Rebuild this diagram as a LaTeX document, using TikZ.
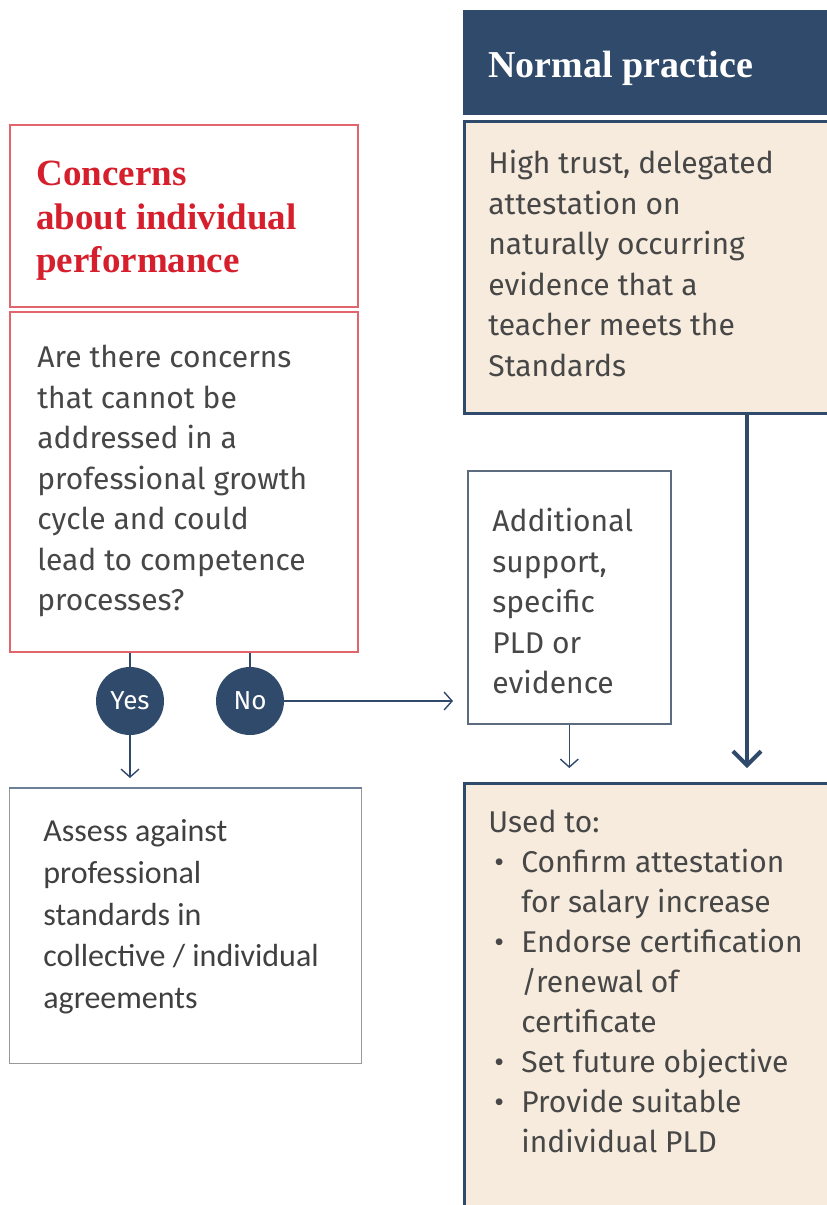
\documentclass[tikz,border=0pt]{standalone}
\usepackage{fontspec}
\setmainfont{Fira Sans}
\newfontfamily\headfont{Liberation Serif}
\newfontfamily\calfont{Carlito}
\usepackage{tikz}
\usetikzlibrary{arrows.meta,positioning}
\definecolor{navy}{HTML}{2F4A6A}
\definecolor{sand}{HTML}{F6EBDD}
\definecolor{redline}{HTML}{E2646C}
\definecolor{redhead}{HTML}{D61F2C}
\definecolor{txtgrey}{HTML}{474747}
\definecolor{boxgrey}{HTML}{5C6C7E}

\begin{document}
\begin{tikzpicture}[x=0.5pt,y=-0.5pt,
    box/.style={draw,rectangle,inner sep=0pt,anchor=north west},
    redbox/.style={box,draw=redline,line width=0.8pt,fill=white},
    sandbox/.style={box,draw=navy,line width=1.6pt,fill=sand},
    txt/.style={inner sep=0pt,anchor=north west,align=left,text=txtgrey,
      font=\fontsize{15}{20.25}\selectfont},
    choice/.style={circle,fill=navy,text=white,minimum size=34pt,inner sep=0pt,
      font=\fontsize{13}{13}\selectfont},
    thin/.style={navy,line width=0.7pt},
    flow/.style={thin,-{Straight Barb[length=4pt,width=9pt]}}]
  \useasboundingbox (0,0) rectangle (826,1205);

  % left column: red question boxes
  \node[redbox,minimum width=174pt,minimum height=91pt] (concern) at (9,124) {};
  \node[redbox,minimum width=174pt,minimum height=170pt] (question) at (9,311) {};
  \node[inner sep=0pt,anchor=north west,align=left,text=redhead,
    font=\headfont\bfseries\fontsize{18.5}{21.75}\selectfont] (concerntxt) at (36,161)
    {Concerns\\about individual\\performance};
  \node[txt] (questiontxt) at (37,345)
    {Are there concerns\\that cannot be\\addressed in a\\professional growth\\
     cycle and could\\lead to competence\\processes?};

  % yes / no
  \node[choice] (yes) at (130,701) {Yes};
  \node[choice] (no) at (250,701) {No};
  \draw[thin] (question.south -| yes) -- (yes);
  \draw[thin] (question.south -| no) -- (no);

  % assessment
  \node[box,draw=gray!80,line width=0.6pt,minimum width=176pt,minimum height=137.5pt]
    (assess) at (9,788) {};
  \draw[navy!70,line width=1pt] (assess.north west) -- (assess.north east);
  \node[txt,font=\calfont\fontsize{16}{20.9}\selectfont,text=black!75] (assesstxt) at (43,819)
    {Assess against\\professional\\standards in\\collective / individual\\agreements};
  \draw[flow,shorten >=5pt] (yes) -- (yes |- assess.north);

  % right column: normal practice
  \node[box,draw=none,fill=navy,minimum width=184pt,minimum height=52.5pt] (normal) at (463,10) {};
  \node[inner sep=0pt,anchor=west,text=white,
    font=\headfont\bfseries\fontsize{19}{19}\selectfont] (normaltxt) at (488,68) {Normal practice};
  \node[sandbox,minimum width=183pt,minimum height=146pt] (trust) at (463,120) {};
  \node[txt] (trusttxt) at (488,150)
    {High trust, delegated\\attestation on\\naturally occurring\\evidence that a\\
     teacher meets the\\Standards};

  \node[box,draw=boxgrey,line width=0.8pt,fill=white,minimum width=101.5pt,minimum height=126.5pt]
    (extra) at (467,470) {};
  \node[txt] (extratxt) at (492,508)
    {Additional\\support,\\specific\\PLD or\\evidence};
  \draw[flow,shorten >=7pt] (no) -- (no -| extra.west);

  \node[sandbox,minimum width=183pt,minimum height=214pt] (used) at (463,782) {};
  \node[txt,font=\fontsize{15}{20}\selectfont] (usedtxt) at (488,810)
    {Used to:\\
     \hspace*{3pt}\makebox[13.5pt][l]{\textbullet}Confirm attestation\\
     \hspace*{16.5pt}for salary increase\\
     \hspace*{3pt}\makebox[13.5pt][l]{\textbullet}Endorse certification\\
     \hspace*{16.5pt}/renewal of\\
     \hspace*{16.5pt}certificate\\
     \hspace*{3pt}\makebox[13.5pt][l]{\textbullet}Set future objective\\
     \hspace*{3pt}\makebox[13.5pt][l]{\textbullet}Provide suitable\\
     \hspace*{16.5pt}individual PLD};
  \draw[flow,shorten >=7pt] (extra) -- (extra |- used.north);

  \coordinate (main) at (747,412);
  \draw[navy,line width=2pt,-{Straight Barb[length=7pt,width=14pt]},shorten >=7pt]
    (main) -- (main |- used.north);
\end{tikzpicture}
\end{document}
